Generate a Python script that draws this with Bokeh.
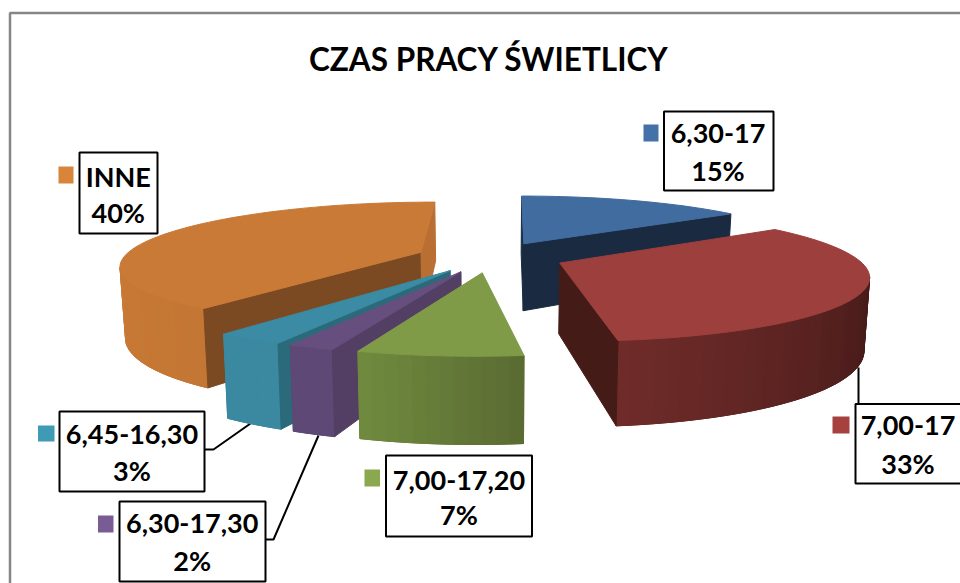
import numpy as np
from bokeh.plotting import figure
from bokeh.models import Range1d, ColumnDataSource
from bokeh.core.properties import value
from bokeh.embed import file_html
from bokeh.resources import INLINE

title = "CZAS PRACY ŚWIETLICY"
categories = ["6,30-17", "7,00-17", "7,00-17,20", "6,30-17,30", "6,45-16,30", "INNE"]
shares = [15, 33, 7, 2, 3, 40]

# ---- styles and layout (not data) ----
TOP = ["#416c9f", "#9c3f3d", "#7f9b48", "#664f7f", "#3a8ba3", "#c97a37"]
CUT_A = ["#1a2b41", "#451b18", "#5c6d33", "#533e64", "#2b6a7b", "#7c4a22"]
CUT_B = ["#1a2b41", "#451b18", "#5c6d33", "#533e64", "#2b6a7b", "#b96f33"]
OUT_A = ["#1a2b41", "#441a18", "#5b6c33", "#5d4876", "#3a89a0", "#c47634"]
OUT_B = ["#1a2b41", "#6e2b29", "#6f8a3e", "#5d4876", "#3a89a0", "#c87935"]
KEY = ["#4472a8", "#a5413f", "#8ba84f", "#7a5c94", "#3f9ab5", "#d9843b"]
DRAW_ORDER = [0, 5, 1, 4, 3, 2]

CX, CY, SX, SH, TY, K = 490.03, 256.37, 296.66, 3.59, 61.03, 0.1861
EXPLODE = 0.2509
WALL, WALL_K, BOTTOM_X = 69.5, 0.17, 0.985

BOX = [(663.5, 773, 111, 190), (855, 975, 403.5, 483), (385.5, 531.5, 455, 536),
       (119, 265, 501, 581), (59, 204, 411, 491), (79, 157, 152, 233)]
KEYBOX = [(643, 658, 124, 141), (832, 849, 416, 433), (364, 379.5, 469, 486),
          (97.5, 113, 515, 532), (37.5, 54, 425, 441), (58, 73, 166, 183)]
TEXT_X = [717.5, 907.5, 458.5, 191.7, 131.5, 117.7]
TEXT_Y = [(133, 170), (425, 462.5), (480, 514), (523, 560), (434, 470), (176, 212)]
LEADERS = [([204, 213, 250], [449, 449, 423]),
           ([265, 273, 318], [539, 539, 435]),
           ([858, 858], [367, 404])]


def top_pt(x, y):
    w = 1 + K * y
    return CX + (SX * x + SH * y) / w, CY - TY * y / w


def low_pt(x, y):
    X, Y = top_pt(x, y)
    return CX + BOTTOM_X * (X - CX), Y + WALL / (1 + WALL_K * y)


total = sum(shares)
edges = np.cumsum([0] + shares) / total * 2 * np.pi

xs, ys, colors = [], [], []


def add(poly, color):
    xs.append([q[0] for q in poly])
    ys.append([q[1] for q in poly])
    colors.append(color)


def lerp(a, b, t):
    ca = [int(a[i:i + 2], 16) for i in (1, 3, 5)]
    cb = [int(b[i:i + 2], 16) for i in (1, 3, 5)]
    return "#%02x%02x%02x" % tuple(int(round(u + (v - u) * t)) for u, v in zip(ca, cb))


for i in DRAW_ORDER:
    a0, a1 = edges[i], edges[i + 1]
    mid = (a0 + a1) / 2
    ox, oy = EXPLODE * np.sin(mid), EXPLODE * np.cos(mid)
    n = max(2, int(np.degrees(a1 - a0) / 2) + 1)
    th = np.linspace(a0, a1, n)
    px = ox + np.sin(th)
    py = oy + np.cos(th)
    A = top_pt(ox, oy)
    Ab = low_pt(ox, oy)
    rim_top = [top_pt(u, v) for u, v in zip(px, py)]
    rim_low = [low_pt(u, v) for u, v in zip(px, py)]

    # outer wall: only the part that faces the viewer; one underlay, then coarse bands
    front = [j for j in range(n - 1) if rim_top[j + 1][0] < rim_top[j][0]]
    if front:
        ids = front + [front[-1] + 1]
        add([rim_top[j] for j in ids] + [rim_low[j] for j in reversed(ids)],
            lerp(OUT_A[i], OUT_B[i], 0.5))
        for c, j in enumerate(front):
            t = c / max(1, len(front) - 1)
            add([rim_top[j], rim_top[j + 1], rim_low[j + 1], rim_low[j]],
                lerp(OUT_A[i], OUT_B[i], t))

    # radial cut faces: visible when "down" leaves the top face
    Q = rim_top[n // 2]
    for idx, col in ((0, CUT_A[i]), (n - 1, CUT_B[i])):
        P = rim_top[idx]
        vx, vy = P[0] - A[0], P[1] - A[1]
        inner = vx * (Q[1] - A[1]) - vy * (Q[0] - A[0])
        if vx * inner < 0:
            add([A, P, rim_low[idx], Ab], col)
    add([A] + rim_top, TOP[i])

p = figure(width=960, height=583, x_range=Range1d(0, 960), y_range=Range1d(583, 0),
           output_backend="svg", toolbar_location=None, min_border=0)
p.axis.visible = False
p.grid.visible = False
p.outline_line_color = None
p.background_fill_color = "white"

# frame of the chart area
p.line([9.5, 9.5, 960], [583, 12.5, 12.5], line_color="#868686", line_width=2.5)

# leader lines under the slices
for lx, ly in LEADERS:
    p.line(lx, ly, line_color="black", line_width=2)

src = ColumnDataSource(dict(xs=xs, ys=ys, c=colors))
p.patches("xs", "ys", source=src, fill_color="c", line_color="c", line_width=1)

p.quad(left=[b[0] for b in BOX], right=[b[1] for b in BOX],
       top=[b[2] for b in BOX], bottom=[b[3] for b in BOX],
       fill_color="white", line_color="black", line_width=2)
p.quad(left=[b[0] for b in KEYBOX], right=[b[1] for b in KEYBOX],
       top=[b[2] for b in KEYBOX], bottom=[b[3] for b in KEYBOX],
       fill_color=KEY, line_color=None)

p.text(TEXT_X, [t[0] for t in TEXT_Y], text=categories, text_font=value("Lato"),
       text_font_style="bold", text_font_size="27px", text_align="center",
       text_baseline="middle", text_color="black")
p.text(TEXT_X, [t[1] for t in TEXT_Y], text=[f"{v}%" for v in shares], text_font=value("Lato"),
       text_font_style="bold", text_font_size="27px", text_align="center",
       text_baseline="middle", text_color="black")
p.text([488.5], [58], text=[title], text_font=value("Lato"), text_font_style="bold",
       text_font_size="31.5px", text_align="center", text_baseline="middle", text_color="black")

open("out.html", "w").write(file_html(p, INLINE))
